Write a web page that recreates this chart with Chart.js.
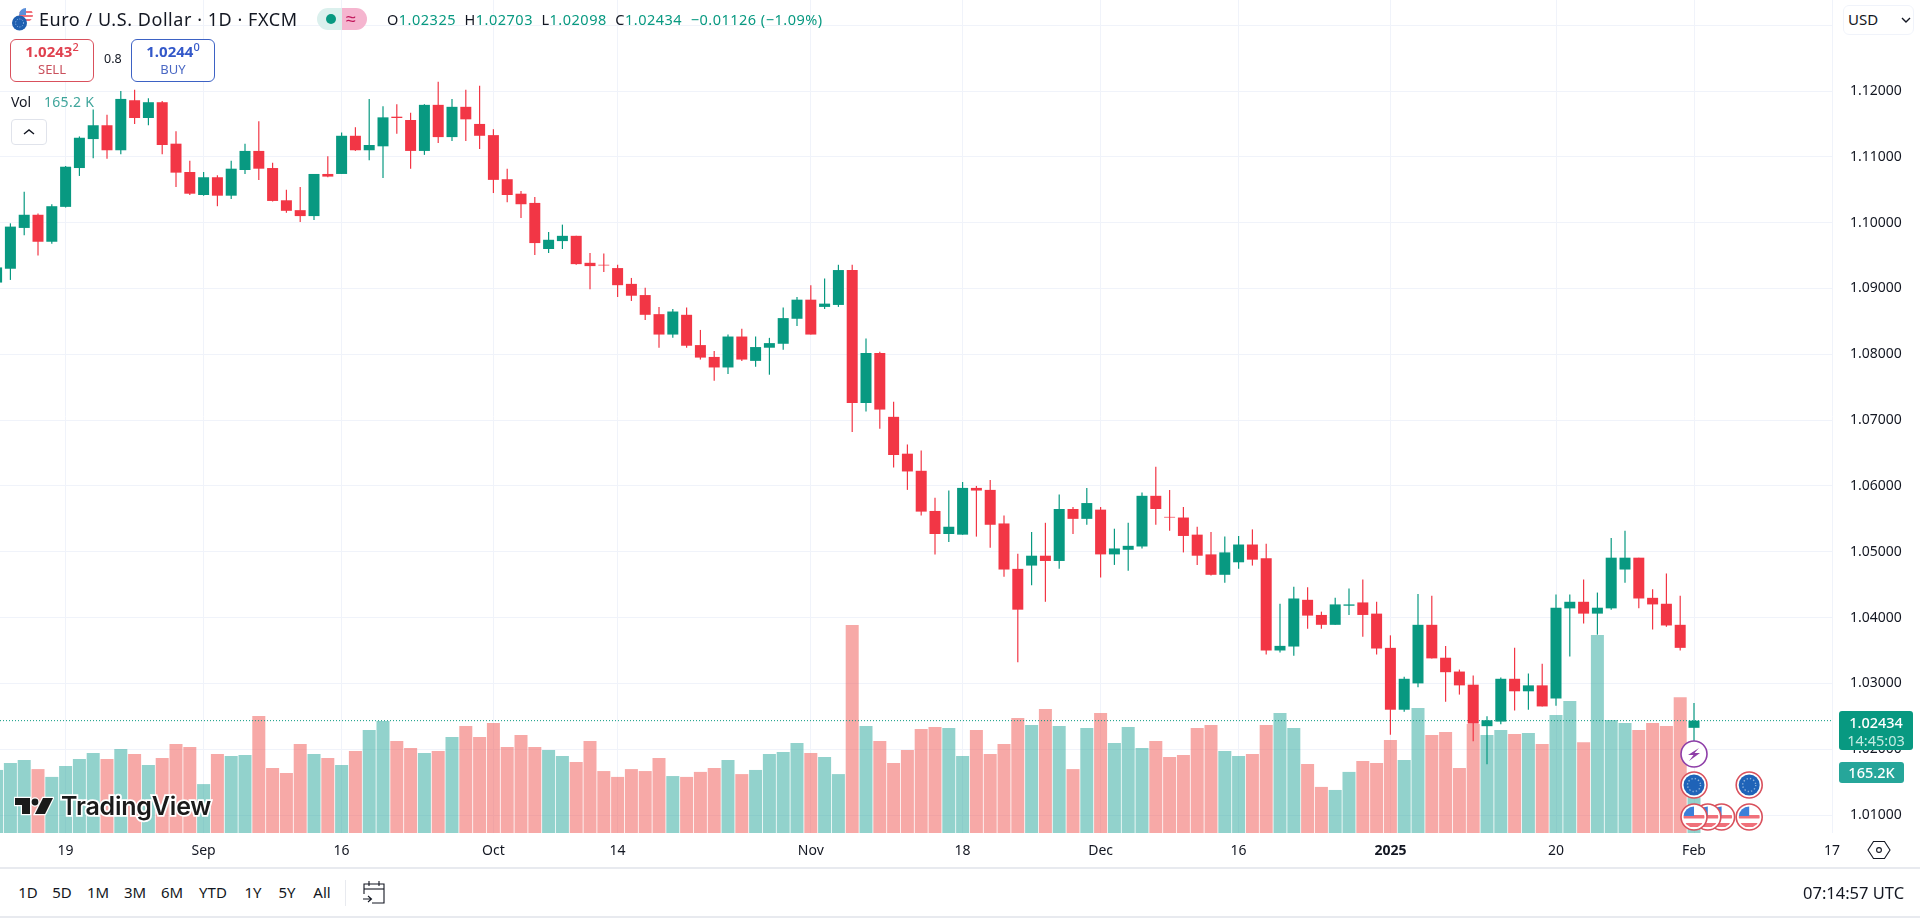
<!DOCTYPE html>
<html>
<head>
<meta charset="utf-8">
<title>EUR/USD</title>
<script src="https://cdn.jsdelivr.net/npm/chart.js@4/dist/chart.umd.min.js"></script>
<style>
  html, body { margin: 0; padding: 0; background: #fff; overflow: hidden; }
  body { width: 1920px; height: 918px; position: relative; font-family: "Noto Sans", sans-serif; color: #131722; }
  #chart { position: absolute; left: 0; top: 0; }
  .t { position: absolute; white-space: nowrap; line-height: 1; }
  .hline { position: absolute; left: 0; width: 1920px; height: 2px; background: #e8eaef; }
  .box { position: absolute; box-sizing: border-box; border-radius: 6px; background: #fff; border: 1px solid; }
  .val { color: #089981; }
  .range { position: absolute; top: 885px; font-size: 15px; line-height: 1; transform: translateX(-50%); }
</style>
</head>
<body>
<canvas id="chart" width="1920" height="868"></canvas>

<svg style="position:absolute;left:10px;top:6px" width="26" height="26" viewBox="0 0 26 26">
  <defs><clipPath id="usClip"><circle cx="16" cy="9" r="7"/></clipPath></defs>
  <g clip-path="url(#usClip)">
    <rect x="9" y="2" width="14" height="14" fill="#fff"/>
    <rect x="9" y="5" width="14" height="2" fill="#f0707a"/>
    <rect x="9" y="9" width="14" height="2" fill="#f0707a"/>
    <rect x="9" y="13" width="14" height="2" fill="#f0707a"/>
    <rect x="9" y="2" width="7" height="7" fill="#5b8fd9"/>
  </g>
  <circle cx="9.5" cy="17" r="7.5" fill="#1f5fb0"/>
  <circle cx="9.5" cy="17" r="4" fill="none" stroke="#9cc0ea" stroke-width="1" stroke-dasharray="1 1.6"/>
</svg>
<div class="t" style="left:39px;top:10px;font-size:18px;letter-spacing:.55px">Euro / U.S. Dollar · 1D · FXCM</div>

<div style="position:absolute;left:317px;top:8px;width:25px;height:22px;background:#dbf0ed;border-radius:11px 0 0 11px"></div>
<div style="position:absolute;left:342px;top:8px;width:25px;height:22px;background:#f5b5cf;border-radius:0 11px 11px 0"></div>
<div style="position:absolute;left:326px;top:14px;width:10px;height:10px;background:#089981;border-radius:50%"></div>
<div class="t" style="left:346px;top:9px;font-size:18px;color:#c2185b">≈</div>

<div class="t" style="left:387px;top:12px;font-size:14.5px;letter-spacing:.5px">O<span class="val">1.02325</span>&nbsp; H<span class="val">1.02703</span>&nbsp; L<span class="val">1.02098</span>&nbsp; C<span class="val">1.02434</span>&nbsp; <span class="val">−0.01126 (−1.09%)</span></div>

<div class="box" style="left:10px;top:39px;width:84px;height:43px;border-color:#d9505c"></div>
<div class="t" style="left:10px;width:84px;text-align:center;top:44px;font-size:15px;font-weight:700;color:#e0414f">1.0243<sup style="font-size:11px;font-weight:500;line-height:0">2</sup></div>
<div class="t" style="left:10px;width:84px;text-align:center;top:63px;font-size:13px;color:#c9505c">SELL</div>
<div class="t" style="left:104px;top:53px;font-size:12.5px">0.8</div>
<div class="box" style="left:131px;top:39px;width:84px;height:43px;border-color:#3d62c4"></div>
<div class="t" style="left:131px;width:84px;text-align:center;top:44px;font-size:15px;font-weight:700;color:#3358c9">1.0244<sup style="font-size:11px;font-weight:500;line-height:0">0</sup></div>
<div class="t" style="left:131px;width:84px;text-align:center;top:63px;font-size:13px;color:#4a68c4">BUY</div>

<div class="t" style="left:11px;top:95px;font-size:14px">Vol</div>
<div class="t" style="left:44px;top:95px;font-size:14px;color:#3fa59b;letter-spacing:.3px">165.2 K</div>
<div class="box" style="left:11px;top:119px;width:36px;height:26px;border-color:#e0e3eb;border-radius:4px">
  <svg style="position:absolute;left:10px;top:7px" width="14" height="10"><path d="M2 7 L7 3 L12 7" fill="none" stroke="#131722" stroke-width="1.4"/></svg>
</div>

<div class="box" style="left:1843px;top:5px;width:71px;height:30px;border-color:#f0f3fa"></div>
<div class="t" style="left:1848px;top:12px;font-size:15px">USD</div>
<svg style="position:absolute;left:1901px;top:16px" width="10" height="8"><path d="M1 2 L5 6 L9 2" fill="none" stroke="#131722" stroke-width="1.4"/></svg>

<div style="position:absolute;left:1839px;top:711px;width:74px;height:39px;background:#089981;border-radius:3px"></div>
<div class="t" style="left:1839px;width:74px;text-align:center;top:715px;font-size:14.5px;font-weight:500;color:#fff">1.02434</div>
<div class="t" style="left:1839px;width:74px;text-align:center;top:733px;font-size:14.5px;color:#c4ebe2">14:45:03</div>
<div style="position:absolute;left:1839px;top:762px;width:65px;height:21px;background:#26a69a;border-radius:3px"></div>
<div class="t" style="left:1839px;width:65px;text-align:center;top:765px;font-size:14.5px;font-weight:500;color:#fff">165.2K</div>

<svg style="position:absolute;left:14px;top:796px" width="40" height="21" viewBox="0 0 40 21">
  <g fill="#1a1a1a" stroke="#fff" stroke-width="2.5" paint-order="stroke">
    <path d="M1 2 H16 V18 H8 V9 H1 Z"/>
    <circle cx="21" cy="6" r="3.4"/>
    <path d="M29 2 H39 L31 18 H21 Z"/>
  </g>
</svg>
<div class="t" style="left:61px;top:794px;font-size:25px;font-weight:600;font-family:Inter,sans-serif;letter-spacing:-.2px;color:#1a1a1a;-webkit-text-stroke:3.5px #fff;paint-order:stroke fill">TradingView</div>

<svg style="position:absolute;left:1866px;top:838px" width="26" height="24" viewBox="0 0 26 24">
  <path d="M7.5 3.5 H18.5 L24 12 L18.5 20.5 H7.5 L2 12 Z" fill="none" stroke="#131722" stroke-width="1.1"/>
  <circle cx="13" cy="12" r="2.4" fill="none" stroke="#131722" stroke-width="1.1"/>
</svg>

<div class="hline" style="top:867px"></div>
<div class="hline" style="top:916px"></div>

<div class="range" style="left:28px">1D</div>
<div class="range" style="left:62px">5D</div>
<div class="range" style="left:98px">1M</div>
<div class="range" style="left:135px">3M</div>
<div class="range" style="left:172px">6M</div>
<div class="range" style="left:213px">YTD</div>
<div class="range" style="left:253px">1Y</div>
<div class="range" style="left:287px">5Y</div>
<div class="range" style="left:322px">All</div>
<div style="position:absolute;left:345px;top:880px;width:1px;height:26px;background:#e8eaef"></div>
<svg style="position:absolute;left:361px;top:879px" width="27" height="26" viewBox="0 0 27 26" fill="none" stroke="#131722" stroke-width="1.1">
  <path d="M3 15 V5 H23 V24 H11"/><path d="M3 10 H23"/><path d="M8 2 V7 M18 2 V7"/><path d="M2 20 H10 M7 17 L10.5 20 L7 23"/>
</svg>
<div class="t" style="left:1803px;top:885px;font-size:16.5px">07:14:57 UTC</div>

<script>
const TEAL_UP = '#089981';
const RED_DOWN = '#f23645';
const VOL_UP = 'rgba(38,166,154,0.5)';
const VOL_DOWN = 'rgba(239,83,80,0.5)';
const GRID = '#f0f3fa';
const FONT = '"Noto Sans", sans-serif';

// daily EUR/USD candles, one entry per bar
const opens = [
  1.0909,1.0930,1.0992,1.1012,1.0971,1.1024,1.1083,1.1127,1.1148,1.1110,
  1.1186,1.1159,1.1183,1.1120,1.1077,1.1042,1.1069,1.1041,1.1080,1.1109,
  1.1083,1.1034,1.1019,1.1010,1.1074,1.1074,1.1132,1.1110,1.1116,1.1161,
  1.1156,1.1109,1.1179,1.1130,1.1176,1.1150,1.1133,1.1066,1.1044,1.1030,
  1.0960,1.0972,1.0980,1.0939,1.0936,1.0931,1.0907,1.0890,1.0861,1.0830,
  1.0860,1.0814,1.0796,1.0780,1.0827,1.0790,1.0810,1.0816,1.0854,1.0883,
  1.0872,1.0875,1.0928,1.0726,1.0802,1.0705,1.0649,1.0623,1.0562,1.0527,
  1.0526,1.0597,1.0594,1.0543,1.0474,1.0479,1.0494,1.0486,1.0565,1.0550,
  1.0564,1.0496,1.0503,1.0508,1.0585,1.0553,1.0552,1.0526,1.0496,1.0465,
  1.0484,1.0511,1.0490,1.0350,1.0356,1.0427,1.0404,1.0389,1.0418,1.0423,
  1.0406,1.0354,1.0260,1.0300,1.0389,1.0339,1.0318,1.0298,1.0235,1.0242,
  1.0307,1.0288,1.0297,1.0277,1.0414,1.0424,1.0406,1.0414,1.0473,1.0491,
  1.0430,1.0421,1.0389,1.02325
];
const highs = [
  1.0938,1.0999,1.1047,1.1014,1.1028,1.1086,1.1131,1.1172,1.1164,1.1200,
  1.1202,1.1189,1.1185,1.1139,1.1094,1.1077,1.1072,1.1094,1.1120,1.1154,
  1.1091,1.1050,1.1054,1.1074,1.1101,1.1137,1.1145,1.1188,1.1177,1.1180,
  1.1167,1.1180,1.1214,1.1188,1.1202,1.1208,1.1142,1.1082,1.1048,1.1039,
  1.0986,1.0997,1.0980,1.0954,1.0953,1.0936,1.0916,1.0901,1.0872,1.0869,
  1.0871,1.0837,1.0805,1.0830,1.0839,1.0827,1.0825,1.0871,1.0887,1.0905,
  1.0915,1.0936,1.0936,1.0824,1.0804,1.0728,1.0663,1.0654,1.0582,1.0593,
  1.0606,1.0600,1.0609,1.0555,1.0497,1.0530,1.0544,1.0587,1.0568,1.0597,
  1.0568,1.0535,1.0544,1.0590,1.0629,1.0594,1.0568,1.0538,1.0530,1.0523,
  1.0524,1.0534,1.0512,1.0421,1.0447,1.0446,1.0409,1.0430,1.0444,1.0458,
  1.0424,1.0373,1.0310,1.0436,1.0433,1.0357,1.0321,1.0312,1.0250,1.0309,
  1.0354,1.0315,1.0330,1.0435,1.0435,1.0458,1.0438,1.0521,1.0532,1.0491,
  1.0443,1.0467,1.0433,1.02703
];
const lows = [
  1.0907,1.0913,1.0981,1.0950,1.0968,1.1023,1.1071,1.1098,1.1097,1.1104,
  1.1150,1.1148,1.1104,1.1054,1.1042,1.1041,1.1025,1.1036,1.1074,1.1065,
  1.1032,1.1015,1.1001,1.1004,1.1069,1.1074,1.1109,1.1095,1.1068,1.1135,
  1.1082,1.1103,1.1121,1.1124,1.1124,1.1112,1.1045,1.1031,1.1007,1.0951,
  1.0954,1.0960,1.0936,1.0899,1.0925,1.0887,1.0881,1.0852,1.0810,1.0825,
  1.0810,1.0792,1.0760,1.0770,1.0790,1.0781,1.0769,1.0807,1.0843,1.0830,
  1.0869,1.0872,1.0682,1.0713,1.0687,1.0628,1.0594,1.0555,1.0496,1.0515,
  1.0526,1.0523,1.0506,1.0462,1.0332,1.0449,1.0424,1.0474,1.0527,1.0541,
  1.0461,1.0480,1.0471,1.0505,1.0541,1.0532,1.0499,1.0480,1.0464,1.0453,
  1.0474,1.0479,1.0344,1.0347,1.0342,1.0383,1.0383,1.0389,1.0404,1.0371,
  1.0344,1.0222,1.0257,1.0294,1.0338,1.0272,1.0283,1.0212,1.0177,1.0238,
  1.0259,1.0260,1.0265,1.0266,1.0341,1.0391,1.0374,1.0412,1.0453,1.0414,
  1.0382,1.0386,1.0350,1.02098
];
const closes = [
  1.0932,1.0994,1.1012,1.0971,1.1025,1.1085,1.1129,1.1148,1.1110,1.1188,
  1.1159,1.1183,1.1118,1.1076,1.1044,1.1069,1.1041,1.1082,1.1109,1.1082,
  1.1033,1.1018,1.1010,1.1074,1.1070,1.1132,1.1110,1.1118,1.1160,1.1159,
  1.1109,1.1179,1.1130,1.1176,1.1157,1.1132,1.1065,1.1042,1.1028,1.0969,
  1.0974,1.0980,1.0937,1.0934,1.0935,1.0905,1.0889,1.0860,1.0830,1.0865,
  1.0813,1.0795,1.0780,1.0827,1.0792,1.0811,1.0817,1.0855,1.0883,1.0830,
  1.0877,1.0928,1.0726,1.0802,1.0716,1.0647,1.0622,1.0561,1.0527,1.0538,
  1.0597,1.0593,1.0541,1.0473,1.0412,1.0494,1.0486,1.0565,1.0550,1.0574,
  1.0496,1.0505,1.0509,1.0585,1.0565,1.0552,1.0524,1.0494,1.0465,1.0499,
  1.0511,1.0488,1.0350,1.0357,1.0429,1.0403,1.0389,1.0420,1.0420,1.0404,
  1.0353,1.0260,1.0307,1.0389,1.0338,1.0317,1.0297,1.0239,1.0244,1.0307,
  1.0288,1.0297,1.0265,1.0415,1.0424,1.0406,1.0415,1.0491,1.0491,1.0429,
  1.0420,1.0388,1.0354,1.02434
];
// volume in thousands
const volumes = [
  290,322,336,294,258,308,340,368,340,386,
  363,313,345,409,396,225,363,354,359,538,
  299,276,409,363,345,313,377,474,515,423,
  391,368,377,442,492,442,506,396,451,396,
  382,354,327,423,285,258,294,285,345,262,
  258,281,299,336,271,290,363,373,414,368,
  350,271,957,492,423,322,382,478,488,483,
  354,474,363,409,529,497,570,492,294,483,
  552,414,488,391,423,350,359,483,497,377,
  354,363,497,552,483,317,212,198,281,331,
  322,428,336,575,451,465,299,501,451,474,
  455,460,409,543,607,418,911,520,506,474,
  506,492,625,165.2
];

const timeTickIndex = [5, 15, 25, 36, 45, 59, 70, 80, 90, 101, 113, 123, 133];
const timeTickLabels = ['19', 'Sep', '16', 'Oct', '14', 'Nov', '18', 'Dec', '16', '2025', '20', 'Feb', '17'];
const priceTicks = [1.01, 1.02, 1.03, 1.04, 1.05, 1.06, 1.07, 1.08, 1.09, 1.10, 1.11, 1.12, 1.13];
const lastPrice = 1.02434;

// calendar markers under the bars: bar index, row
const eventUs = [127, 125, 124, 123];
const eventEu = [123, 127];
const eventFlash = [123];

const X_MIN = 0.246, X_MAX = 133;
const Y_MIN = 1.00727, Y_MAX = 1.13383;
const VOL_MAX = 3832;

const isUp = i => closes[i] >= opens[i];
const candleColors = opens.map((o, i) => isUp(i) ? TEAL_UP : RED_DOWN);
const volumeColors = opens.map((o, i) => isUp(i) ? VOL_UP : VOL_DOWN);

// little round badges over the price pane
function badgeBase(ctx, x, y, ring) {
    ctx.beginPath(); ctx.arc(x, y, 13, 0, Math.PI * 2);
    ctx.fillStyle = '#fff'; ctx.fill();
    ctx.lineWidth = 1.6; ctx.strokeStyle = ring; ctx.stroke();
}
function drawUs(ctx, x, y) {
    badgeBase(ctx, x, y, '#d9505c');
    ctx.save();
    ctx.beginPath(); ctx.arc(x, y, 10.5, 0, Math.PI * 2); ctx.clip();
    ctx.fillStyle = '#f0707a';
    ctx.fillRect(x - 11, y - 2, 22, 3.5);
    ctx.fillRect(x - 11, y + 6, 22, 4);
    ctx.fillStyle = '#3d7fd9';
    ctx.fillRect(x - 11, y - 11, 11, 10);
    ctx.restore();
}
function drawEu(ctx, x, y) {
    badgeBase(ctx, x, y, '#d9505c');
    ctx.beginPath(); ctx.arc(x, y, 10.5, 0, Math.PI * 2);
    ctx.fillStyle = '#1f63b8'; ctx.fill();
    ctx.beginPath(); ctx.arc(x, y, 6.5, 0, Math.PI * 2);
    ctx.setLineDash([1.3, 2.1]); ctx.lineWidth = 1.4; ctx.strokeStyle = '#8fb4dc'; ctx.stroke();
    ctx.setLineDash([]);
}
function drawFlash(ctx, x, y) {
    badgeBase(ctx, x, y, '#8e3ea8');
    ctx.beginPath();
    ctx.moveTo(x + 5, y - 6); ctx.lineTo(x - 6, y + 1); ctx.lineTo(x - 0.5, y + 1);
    ctx.lineTo(x - 5, y + 7); ctx.lineTo(x + 6, y - 1); ctx.lineTo(x + 0.5, y - 1);
    ctx.closePath();
    ctx.fillStyle = '#8e3ea8'; ctx.fill();
}

const eventBadges = {
    id: 'eventBadges',
    afterDraw(chart) {
        const ctx = chart.ctx;
        const xs = chart.scales.x;
        const base = chart.chartArea.bottom;
        eventUs.forEach(i => drawUs(ctx, xs.getPixelForValue(i), base - 16));
        eventEu.forEach(i => drawEu(ctx, xs.getPixelForValue(i), base - 48));
        eventFlash.forEach(i => drawFlash(ctx, xs.getPixelForValue(i), base - 79));
    }
};

new Chart(document.getElementById('chart'), {
    type: 'bar',
    data: {
        datasets: [
            {
                yAxisID: 'yVol', order: 4, grouped: false, barPercentage: 13 / 13.8, categoryPercentage: 1,
                data: volumes.map((v, i) => ({ x: i, y: v })),
                backgroundColor: volumeColors
            },
            {
                type: 'line', yAxisID: 'y', order: 3,
                data: [{ x: X_MIN, y: lastPrice }, { x: X_MAX, y: lastPrice }],
                borderColor: TEAL_UP, borderWidth: 1, borderDash: [1, 2], pointRadius: 0
            },
            {
                yAxisID: 'y', order: 2, grouped: false, barPercentage: 1.2 / 13.8, categoryPercentage: 1,
                data: lows.map((l, i) => ({ x: i, y: [l, highs[i]] })),
                backgroundColor: candleColors
            },
            {
                yAxisID: 'y', order: 1, grouped: false, barPercentage: 11 / 13.8, categoryPercentage: 1,
                data: opens.map((o, i) => ({ x: i, y: [o, closes[i]] })),
                backgroundColor: candleColors
            }
        ]
    },
    options: {
        responsive: false,
        animation: false,
        layout: { padding: 0 },
        plugins: { legend: { display: false }, tooltip: { enabled: false } },
        scales: {
            x: {
                type: 'linear',
                offset: false,
                min: X_MIN,
                max: X_MAX,
                grid: { color: GRID, drawTicks: false, offset: false },
                border: { display: false },
                afterBuildTicks: s => { s.ticks = timeTickIndex.map(v => ({ value: v })); },
                afterFit: s => { s.height = 35; s.paddingLeft = 0; s.paddingRight = 0; },
                ticks: {
                    autoSkip: false,
                    maxRotation: 0,
                    padding: 10,
                    color: '#131722',
                    font: c => ({ family: FONT, size: 14, weight: timeTickLabels[c.index] === '2025' ? 'bold' : 'normal' }),
                    callback: (v, i) => timeTickLabels[i]
                }
            },
            y: {
                position: 'right',
                offset: false,
                min: Y_MIN,
                max: Y_MAX,
                grid: { color: GRID, drawTicks: false, offset: false },
                border: { display: false },
                afterBuildTicks: s => { s.ticks = priceTicks.map(v => ({ value: v })); },
                // tick padding also pads the ends of a vertical axis, drop that so the pane starts at y=0
                afterFit: s => { s.width = 88; s.paddingTop = 0; s.paddingBottom = 0; },
                ticks: {
                    autoSkip: false,
                    padding: 18,
                    color: '#131722',
                    font: { family: FONT, size: 14 },
                    callback: v => v === 1.13 ? '' : v.toFixed(5)
                }
            },
            yVol: { display: false, offset: false, min: 0, max: VOL_MAX }
        }
    },
    plugins: [eventBadges]
});
</script>
</body>
</html>
